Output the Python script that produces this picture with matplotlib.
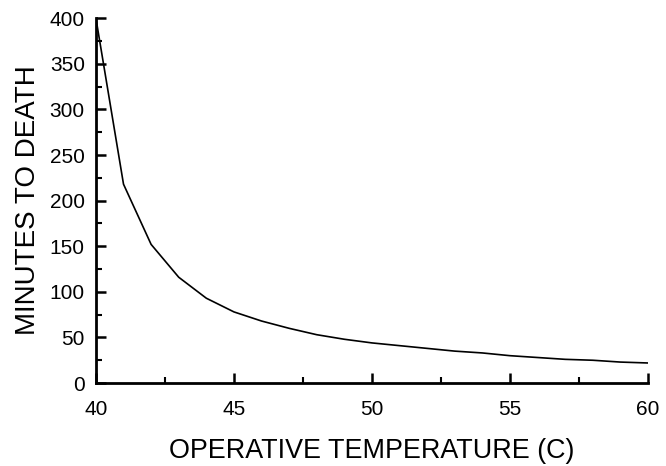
import matplotlib
matplotlib.use("Agg")
import matplotlib.pyplot as plt
from matplotlib.ticker import MultipleLocator

temperature = [40, 41, 42, 43, 44, 45, 46, 47, 48, 49, 50, 51, 52, 53, 54, 55, 56, 57, 58, 59, 60]
minutes = [400, 218, 152, 116, 93, 78, 68, 60, 53, 48, 44, 41, 38, 35, 33, 30, 28, 26, 25, 23, 22]

plt.rcParams['font.family'] = ['Liberation Sans', 'DejaVu Sans']

fig = plt.figure(figsize=(6.66, 4.66), dpi=100)
ax = fig.add_axes([0.144, 0.178, 0.829, 0.783])
ax.plot(temperature, minutes, color='black', linewidth=1.2)

ax.set_xlim(40, 60)
ax.set_ylim(0, 400)
ax.xaxis.set_major_locator(MultipleLocator(5))
ax.xaxis.set_minor_locator(MultipleLocator(2.5))
ax.yaxis.set_major_locator(MultipleLocator(50))
ax.yaxis.set_minor_locator(MultipleLocator(25))

for s in ['top', 'right']:
    ax.spines[s].set_visible(False)
for s in ['left', 'bottom']:
    ax.spines[s].set_linewidth(2)

ax.tick_params(which='major', direction='in', length=7, width=1.8, labelsize=15, pad=8)
ax.tick_params(which='minor', direction='in', length=4, width=1.5)
ax.tick_params(axis='x', which='major', pad=12)

ax.set_xlabel('OPERATIVE TEMPERATURE (C)', fontsize=19.4, labelpad=14)
ax.set_ylabel('MINUTES TO DEATH', fontsize=20, labelpad=6)

fig.savefig('out.png', dpi=100)
